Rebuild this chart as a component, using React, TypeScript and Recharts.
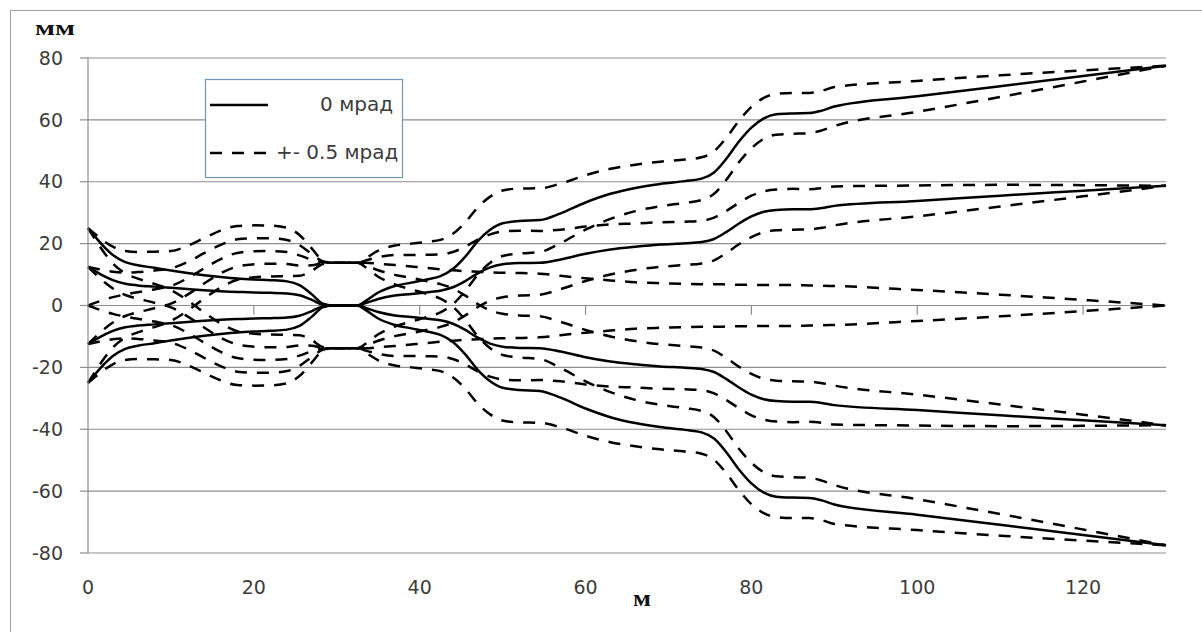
// Beam envelope along the line: central rays (0 mrad) and ±0.5 mrad rays
import { LineChart, Line, XAxis, YAxis, CartesianGrid, ReferenceLine } from 'recharts';

// distance, m
const xs = [
  0, 1, 2, 3, 4.5, 6, 8, 10, 12, 14,
  16, 18, 20, 22, 24, 25.5, 27, 28.3, 29.5, 31,
  32.5, 33.5, 35, 37, 39, 41, 42.5, 44, 45.5, 47,
  48.5, 50, 52, 54.5, 57, 60, 63, 66, 69, 72,
  74, 75.5, 77, 78.5, 80, 81.5, 83, 85, 87, 88.5,
  90, 100, 110, 120, 130,
];

// 0 mrad rays, mm
const solid25 = [
  25, 21.8, 18.8, 16.3, 14.0, 13.0, 12.2, 11.3, 10.5, 9.8,
  9.2, 8.7, 8.4, 8.2, 7.8, 6.6, 3.6, 0.6, 0, 0,
  0, 1.5, 4.2, 6.3, 7.4, 8.5, 9.5, 11.8, 15.8, 20.8,
  24.5, 26.6, 27.3, 27.6, 29.8, 33.3, 36.1, 38.0, 39.3, 40.2,
  41.0, 43.0, 47.5, 53.0, 57.5, 60.5, 61.8, 62.1, 62.2, 63.0,
  64.3, 67.6, 70.9, 74.2, 77.5,
];
const solid12 = [
  12.5, 10.9, 9.4, 8.2, 7.0, 6.5, 6.1, 5.7, 5.3, 4.9,
  4.6, 4.4, 4.2, 4.1, 3.9, 3.3, 1.8, 0.3, 0, 0,
  0, 0.8, 2.1, 3.2, 3.7, 4.3, 4.8, 5.9, 7.9, 10.4,
  12.3, 13.3, 13.7, 13.8, 14.9, 16.7, 18.1, 19.0, 19.7, 20.1,
  20.5, 21.5, 23.8, 26.5, 28.8, 30.3, 30.9, 31.1, 31.1, 31.5,
  32.2, 33.8, 35.5, 37.1, 38.7,
];
const solidN12 = [
  -12.5, -10.9, -9.4, -8.2, -7.0, -6.5, -6.1, -5.7, -5.3, -4.9,
  -4.6, -4.4, -4.2, -4.1, -3.9, -3.3, -1.8, -0.3, 0, 0,
  0, -0.8, -2.1, -3.2, -3.7, -4.3, -4.8, -5.9, -7.9, -10.4,
  -12.3, -13.3, -13.7, -13.8, -14.9, -16.7, -18.1, -19.0, -19.7, -20.1,
  -20.5, -21.5, -23.8, -26.5, -28.8, -30.3, -30.9, -31.1, -31.1, -31.5,
  -32.2, -33.8, -35.5, -37.1, -38.7,
];
const solidN25 = [
  -25, -21.8, -18.8, -16.3, -14.0, -13.0, -12.2, -11.3, -10.5, -9.8,
  -9.2, -8.7, -8.4, -8.2, -7.8, -6.6, -3.6, -0.6, 0, 0,
  0, -1.5, -4.2, -6.3, -7.4, -8.5, -9.5, -11.8, -15.8, -20.8,
  -24.5, -26.6, -27.3, -27.6, -29.8, -33.3, -36.1, -38.0, -39.3, -40.2,
  -41.0, -43.0, -47.5, -53.0, -57.5, -60.5, -61.8, -62.1, -62.2, -63.0,
  -64.3, -67.6, -70.9, -74.2, -77.5,
];

// +-0.5 mrad rays, mm
const dash25a = [
  25, 22.8, 20.7, 19.0, 17.6, 17.3, 17.4, 17.6, 19.3, 21.8,
  24.2, 25.7, 25.9, 25.8, 25.1, 22.8, 18.4, 14.6, 13.8, 13.8,
  13.8, 15.3, 17.7, 19.4, 20.0, 20.6, 21.2, 23.2, 26.9, 31.7,
  35.2, 37.2, 37.8, 37.9, 39.4, 42.1, 44.2, 45.5, 46.5, 47.2,
  47.9, 49.9, 54.3, 59.7, 64.2, 67.1, 68.4, 68.7, 68.7, 69.4,
  70.6, 72.6, 74.4, 76.0, 77.5,
];
const dash25b = [
  25, 20.8, 16.9, 13.6, 10.4, 8.7, 7.0, 5.0, 1.7, -2.2,
  -5.8, -8.3, -9.1, -9.4, -9.5, -9.6, -11.2, -13.4, -13.8, -13.8,
  -13.8, -12.3, -9.3, -6.8, -5.2, -3.6, -2.2, 0.4, 4.7, 9.9,
  13.8, 16.0, 16.8, 17.3, 20.2, 24.5, 28.0, 30.5, 32.1, 33.2,
  34.1, 36.1, 40.7, 46.3, 50.8, 53.9, 55.2, 55.5, 55.7, 56.6,
  58.0, 62.6, 67.4, 72.4, 77.5,
];
const dash12a = [
  12.5, 11.9, 11.3, 10.9, 10.6, 10.8, 11.3, 12.0, 14.1, 16.9,
  19.6, 21.4, 21.7, 21.7, 21.2, 19.5, 16.6, 14.3, 13.8, 13.8,
  13.8, 14.6, 15.6, 16.3, 16.3, 16.4, 16.5, 17.3, 19.0, 21.3,
  23.0, 23.9, 24.2, 24.1, 24.5, 25.5, 26.2, 26.5, 26.9, 27.1,
  27.4, 28.4, 30.6, 33.2, 35.5, 36.9, 37.5, 37.7, 37.6, 37.9,
  38.5, 38.8, 39.0, 38.9, 38.7,
];
const dash12b = [
  12.5, 9.9, 7.5, 5.5, 3.4, 2.2, 0.9, -0.6, -3.5, -7.1,
  -10.4, -12.6, -13.3, -13.5, -13.4, -12.9, -13.0, -13.7, -13.8, -13.8,
  -13.8, -13.0, -11.4, -9.9, -8.9, -7.8, -6.9, -5.5, -3.2, -0.5,
  1.6, 2.7, 3.2, 3.5, 5.3, 7.9, 10.0, 11.5, 12.5, 13.1,
  13.6, 14.6, 17.0, 19.8, 22.1, 23.7, 24.3, 24.5, 24.6, 25.1,
  25.9, 28.8, 32.0, 35.3, 38.7,
];
const dash0a = [
  0, 1.0, 1.9, 2.7, 3.6, 4.3, 5.2, 6.3, 8.8, 12.0,
  15.0, 17.0, 17.5, 17.6, 17.3, 16.2, 14.8, 14.0, 13.8, 13.8,
  13.8, 13.8, 13.5, 13.1, 12.6, 12.1, 11.7, 11.4, 11.1, 10.9,
  10.7, 10.6, 10.5, 10.3, 9.6, 8.8, 8.1, 7.5, 7.2, 7.0,
  6.9, 6.9, 6.8, 6.7, 6.7, 6.6, 6.6, 6.6, 6.5, 6.4,
  6.3, 5.0, 3.5, 1.8, 0,
];
const dash0b = [
  0, -1.0, -1.9, -2.7, -3.6, -4.3, -5.2, -6.3, -8.8, -12.0,
  -15.0, -17.0, -17.5, -17.6, -17.3, -16.2, -14.8, -14.0, -13.8, -13.8,
  -13.8, -13.8, -13.5, -13.1, -12.6, -12.1, -11.7, -11.4, -11.1, -10.9,
  -10.7, -10.6, -10.5, -10.3, -9.6, -8.8, -8.1, -7.5, -7.2, -7.0,
  -6.9, -6.9, -6.8, -6.7, -6.7, -6.6, -6.6, -6.6, -6.5, -6.4,
  -6.3, -5.0, -3.5, -1.8, 0,
];
const dashN12a = [
  -12.5, -11.9, -11.3, -10.9, -10.6, -10.8, -11.3, -12.0, -14.1, -16.9,
  -19.6, -21.4, -21.7, -21.7, -21.2, -19.5, -16.6, -14.3, -13.8, -13.8,
  -13.8, -14.6, -15.6, -16.3, -16.3, -16.4, -16.5, -17.3, -19.0, -21.3,
  -23.0, -23.9, -24.2, -24.1, -24.5, -25.5, -26.2, -26.5, -26.9, -27.1,
  -27.4, -28.4, -30.6, -33.2, -35.5, -36.9, -37.5, -37.7, -37.6, -37.9,
  -38.5, -38.8, -39.0, -38.9, -38.7,
];
const dashN12b = [
  -12.5, -9.9, -7.5, -5.5, -3.4, -2.2, -0.9, 0.6, 3.5, 7.1,
  10.4, 12.6, 13.3, 13.5, 13.4, 12.9, 13.0, 13.7, 13.8, 13.8,
  13.8, 13.0, 11.4, 9.9, 8.9, 7.8, 6.9, 5.5, 3.2, 0.5,
  -1.6, -2.7, -3.2, -3.5, -5.3, -7.9, -10.0, -11.5, -12.5, -13.1,
  -13.6, -14.6, -17.0, -19.8, -22.1, -23.7, -24.3, -24.5, -24.6, -25.1,
  -25.9, -28.8, -32.0, -35.3, -38.7,
];
const dashN25a = [
  -25, -22.8, -20.7, -19.0, -17.6, -17.3, -17.4, -17.6, -19.3, -21.8,
  -24.2, -25.7, -25.9, -25.8, -25.1, -22.8, -18.4, -14.6, -13.8, -13.8,
  -13.8, -15.3, -17.7, -19.4, -20.0, -20.6, -21.2, -23.2, -26.9, -31.7,
  -35.2, -37.2, -37.8, -37.9, -39.4, -42.1, -44.2, -45.5, -46.5, -47.2,
  -47.9, -49.9, -54.3, -59.7, -64.2, -67.1, -68.4, -68.7, -68.7, -69.4,
  -70.6, -72.6, -74.4, -76.0, -77.5,
];
const dashN25b = [
  -25, -20.8, -16.9, -13.6, -10.4, -8.7, -7.0, -5.0, -1.7, 2.2,
  5.8, 8.3, 9.1, 9.4, 9.5, 9.6, 11.2, 13.4, 13.8, 13.8,
  13.8, 12.3, 9.3, 6.8, 5.2, 3.6, 2.2, -0.4, -4.7, -9.9,
  -13.8, -16.0, -16.8, -17.3, -20.2, -24.5, -28.0, -30.5, -32.1, -33.2,
  -34.1, -36.1, -40.7, -46.3, -50.8, -53.9, -55.2, -55.5, -55.7, -56.6,
  -58.0, -62.6, -67.4, -72.4, -77.5,
];

const xTicks = [0, 20, 40, 60, 80, 100, 120];
const yTicks = [-80, -60, -40, -20, 0, 20, 40, 60, 80];

const series = [
  { key: 'd25a', values: dash25a, dashed: true },
  { key: 'd25b', values: dash25b, dashed: true },
  { key: 'd12a', values: dash12a, dashed: true },
  { key: 'd12b', values: dash12b, dashed: true },
  { key: 'd0a', values: dash0a, dashed: true },
  { key: 'd0b', values: dash0b, dashed: true },
  { key: 'dn12a', values: dashN12a, dashed: true },
  { key: 'dn12b', values: dashN12b, dashed: true },
  { key: 'dn25a', values: dashN25a, dashed: true },
  { key: 'dn25b', values: dashN25b, dashed: true },
  { key: 's25', values: solid25, dashed: false },
  { key: 's12', values: solid12, dashed: false },
  { key: 'sn12', values: solidN12, dashed: false },
  { key: 'sn25', values: solidN25, dashed: false },
];

const rows = xs.map((x, i) => {
  const row: Record<string, number> = { x };
  series.forEach(s => { row[s.key] = s.values[i]; });
  return row;
});

const GRID = '#8e8e8e';
const DASH = '12 10';
const tickStyle = { fontSize: 19, fill: '#3c3c3c', fontFamily: 'DejaVu Sans' };

export default function App() {
  return (
    <div style={{ position: 'absolute', left: 0, top: 0, width: 1202, height: 632, overflow: 'hidden', background: '#fff' }}>
      <div style={{ position: 'absolute', left: 10, top: 10, width: 1200, height: 630, border: '1px solid #a0a0a0' }} />
      <div style={{ position: 'absolute', left: 0, top: 0 }}>
        <LineChart width={1202} height={632} data={rows} margin={{ top: 58, right: 36, bottom: 29, left: 8 }}>
          <CartesianGrid vertical={false} stroke={GRID} strokeWidth={1.2} />
          <XAxis
            type="number"
            dataKey="x"
            domain={[0, 130]}
            ticks={xTicks}
            axisLine={false}
            tickLine={false}
            tickSize={6}
            tickMargin={22}
            height={50}
            tick={tickStyle}
          />
          <YAxis
            type="number"
            domain={[-80, 80]}
            ticks={yTicks}
            width={80}
            axisLine={{ stroke: GRID, strokeWidth: 1.2 }}
            tickLine={{ stroke: GRID, strokeWidth: 1.2 }}
            tickSize={8}
            tickMargin={17}
            tick={tickStyle}
          />
          {xTicks.filter(t => t > 0).map(t => (
            <ReferenceLine key={t} segment={[{ x: t, y: 0 }, { x: t, y: -3 }]} stroke={GRID} strokeWidth={1.2} />
          ))}
          {series.map(s => (
            <Line
              key={s.key}
              dataKey={s.key}
              type="monotone"
              stroke="#000"
              strokeWidth={2.5}
              strokeDasharray={s.dashed ? DASH : undefined}
              dot={false}
              activeDot={false}
              isAnimationActive={false}
            />
          ))}
        </LineChart>
      </div>
      <svg width={1202} height={632} style={{ position: 'absolute', left: 0, top: 0, pointerEvents: 'none' }}>
        <text x={35} y={35} fontFamily="Liberation Serif" fontWeight="bold" fontSize={22} textLength={40} lengthAdjust="spacingAndGlyphs" fill="#111">мм</text>
        <text x={633} y={606} fontFamily="Liberation Serif" fontWeight="bold" fontSize={24} textLength={18} lengthAdjust="spacingAndGlyphs" fill="#111">м</text>
        <rect x={205.5} y={79.5} width={197} height={98} fill="#fff" stroke="#7097b8" strokeWidth={1.2} />
        <line x1={210} x2={268} y1={105} y2={105} stroke="#000" strokeWidth={2.5} />
        <text x={393} y={111} textAnchor="end" fontFamily="DejaVu Sans" fontSize={20} fill="#3c3c3c">0 мрад</text>
        <line x1={210} x2={270} y1={153} y2={153} stroke="#000" strokeWidth={2.5} strokeDasharray={DASH} />
        <text x={276} y={159} fontFamily="DejaVu Sans" fontSize={20} fill="#3c3c3c">+- 0.5 мрад</text>
      </svg>
    </div>
  );
}
